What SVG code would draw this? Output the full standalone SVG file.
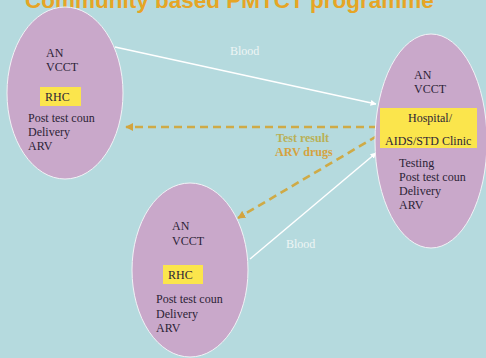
<svg xmlns="http://www.w3.org/2000/svg" width="486" height="358" viewBox="0 0 486 358">
  <defs>
    <marker id="arrow-white" viewBox="0 0 10 10" refX="9" refY="5" markerWidth="6" markerHeight="6" orient="auto" markerUnits="userSpaceOnUse">
      <path d="M0,0 L10,5 L0,10 Z" fill="#ffffff"/>
    </marker>
    <marker id="arrow-gold" viewBox="0 0 10 10" refX="9" refY="5" markerWidth="8" markerHeight="8" orient="auto" markerUnits="userSpaceOnUse">
      <path d="M0,0 L10,5 L0,10 Z" fill="#d3a43e"/>
    </marker>
  </defs>
  <style>
    .site { fill: #c9a8ca; stroke: #f2f2f6; stroke-width: 1; }
    .lbl { font-size: 12px; fill: #2c1f36; }
    .tag { fill: #fbe54c; }
    .blood { stroke: #ffffff; stroke-width: 1.5; fill: none; }
    .flow { stroke: #cfaa46; stroke-width: 2.6; stroke-dasharray: 8 5; fill: none; }
    .edge-lbl { font-size: 12px; }
  </style>

  <rect x="0" y="0" width="486" height="358" fill="#b5dade"/>

  <!-- heading, partly cropped by the top edge -->
  <text x="25" y="8" font-family="Liberation Sans, Arial, sans-serif" font-weight="bold" font-size="22.5" fill="#e6a525">Community based PMTCT programme</text>

  <!-- connectors -->
  <g id="connectors" font-family="Liberation Serif, Times New Roman, DejaVu Serif, serif">
    <line class="blood" x1="115" y1="47" x2="376" y2="104" marker-end="url(#arrow-white)"/>
    <line class="blood" x1="250" y1="259" x2="376" y2="153" marker-end="url(#arrow-white)"/>
    <line class="flow" x1="377" y1="127" x2="126" y2="127" marker-end="url(#arrow-gold)"/>
    <line class="flow" x1="377" y1="136" x2="238" y2="218" marker-end="url(#arrow-gold)"/>
    <text class="edge-lbl" x="230" y="55" fill="#eef5f5">Blood</text>
    <text class="edge-lbl" x="286" y="248" fill="#eef5f5">Blood</text>
    <text class="edge-lbl" x="276" y="142" font-weight="bold" fill="#b9b056">Test result</text>
    <text class="edge-lbl" x="275" y="156" font-weight="bold" fill="#d6a23e">ARV drugs</text>
  </g>

  <!-- upper-left health centre -->
  <g id="rhc-left" font-family="Liberation Serif, Times New Roman, DejaVu Serif, serif">
    <ellipse class="site" cx="65" cy="93" rx="58" ry="86"/>
    <text class="lbl" x="46" y="57">AN</text>
    <text class="lbl" x="46" y="71">VCCT</text>
    <rect class="tag" x="40" y="87" width="41" height="19"/>
    <text class="lbl" x="45" y="101">RHC</text>
    <text class="lbl" x="28" y="122">Post test coun</text>
    <text class="lbl" x="28" y="136">Delivery</text>
    <text class="lbl" x="28" y="150">ARV</text>
  </g>

  <!-- hospital / clinic -->
  <g id="hospital" font-family="Liberation Serif, Times New Roman, DejaVu Serif, serif">
    <ellipse class="site" cx="431" cy="141" rx="56" ry="107"/>
    <text class="lbl" x="414" y="79">AN</text>
    <text class="lbl" x="414" y="93">VCCT</text>
    <rect class="tag" x="380" y="108" width="97" height="40"/>
    <text class="lbl" x="408" y="122">Hospital/</text>
    <text class="lbl" x="385" y="145">AIDS/STD Clinic</text>
    <text class="lbl" x="399" y="167">Testing</text>
    <text class="lbl" x="399" y="181">Post test coun</text>
    <text class="lbl" x="399" y="195">Delivery</text>
    <text class="lbl" x="399" y="209">ARV</text>
  </g>

  <!-- lower health centre -->
  <g id="rhc-bottom" font-family="Liberation Serif, Times New Roman, DejaVu Serif, serif">
    <ellipse class="site" cx="190" cy="270" rx="58" ry="87"/>
    <text class="lbl" x="172" y="230">AN</text>
    <text class="lbl" x="172" y="245">VCCT</text>
    <rect class="tag" x="163" y="265" width="40" height="19"/>
    <text class="lbl" x="168" y="279">RHC</text>
    <text class="lbl" x="156" y="303">Post test coun</text>
    <text class="lbl" x="156" y="318">Delivery</text>
    <text class="lbl" x="156" y="332">ARV</text>
  </g>
</svg>
